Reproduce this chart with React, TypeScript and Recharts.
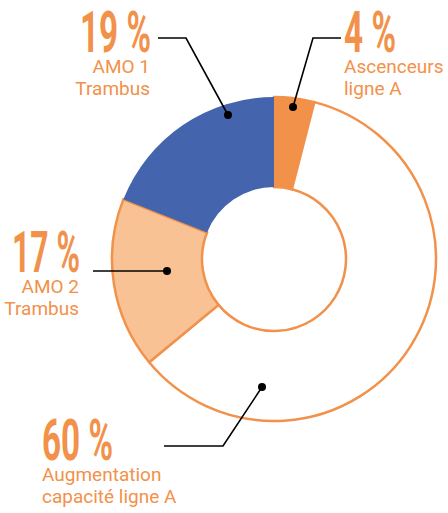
import React from 'react';
import { PieChart, Pie, Cell } from 'recharts';

const percentLabels = ['4 %', '60 %', '17 %', '19 %'];
const values = [4, 60, 17, 19];
const nameLines = [
  ['Ascenceurs', 'ligne A'],
  ['Augmentation', 'capacité ligne A'],
  ['AMO 2', 'Trambus'],
  ['AMO 1', 'Trambus'],
];

const ORANGE = '#F2914A';
const fills = [ORANGE, '#FFFFFF', '#F8C294', '#4465AD'];
const strokes = [ORANGE, ORANGE, ORANGE, 'none'];

// annotation layout, offsets relative to the pie centre
const layout = [
  { dot: [19, -152], elbow: [39, -221], end: [67, -221], tx: 70, ty: -207, anchor: 'start', bigW: 52 },
  { dot: [-12, 128], elbow: [-51, 187], end: [-110, 187], tx: -232, ty: 201, anchor: 'start', bigW: 71 },
  { dot: [-107, 12], elbow: [-181, 12], end: [-181, 12], tx: -194, ty: 13, anchor: 'end', bigW: 68 },
  { dot: [-46, -144], elbow: [-88, -221], end: [-116, -221], tx: -123, ty: -207, anchor: 'end', bigW: 71 },
];

const data = values.map((v, i) => ({ name: nameLines[i].join(' '), value: v }));

const renderLabel = (props: any) => {
  const { cx, cy, index } = props;
  const L = layout[index];
  const p = (a: number[]) => `${cx + a[0]},${cy + a[1]}`;
  const x = cx + L.tx;
  const y = cy + L.ty;
  return (
    <g key={`lab-${index}`}>
      <polyline points={`${p(L.end)} ${p(L.elbow)} ${p(L.dot)}`} fill="none" stroke="#000" strokeWidth={1.6} />
      <circle cx={cx + L.dot[0]} cy={cy + L.dot[1]} r={4} fill="#000" />
      <text
        x={x}
        y={y}
        textAnchor={L.anchor}
        fill={ORANGE}
        fontFamily="Roboto, sans-serif"
        fontWeight={700}
        fontSize={58}
        textLength={L.bigW}
        lengthAdjust="spacingAndGlyphs"
      >
        {percentLabels[index]}
      </text>
      {nameLines[index].map((t, j) => (
        <text
          key={j}
          x={L.anchor === 'end' ? x - 1 : x}
          y={y + 21 + j * 22}
          textAnchor={L.anchor}
          fill={ORANGE}
          fontFamily="Roboto, sans-serif"
          fontSize={19}
        >
          {t}
        </text>
      ))}
    </g>
  );
};

export default function App() {
  return (
    <div style={{ position: 'absolute', left: 0, top: 0, width: 448, height: 513, background: '#fff' }}>
      <PieChart width={448} height={513} margin={{ top: 0, right: 0, bottom: 0, left: 0 }}>
        <Pie
          data={data}
          dataKey="value"
          cx={274}
          cy={259}
          innerRadius={72}
          outerRadius={162}
          startAngle={90}
          endAngle={-270}
          isAnimationActive={false}
          label={renderLabel}
          labelLine={false}
        >
          {data.map((d, i) => (
            <Cell key={i} fill={fills[i]} stroke={strokes[i]} strokeWidth={2.5} />
          ))}
        </Pie>
      </PieChart>
    </div>
  );
}
